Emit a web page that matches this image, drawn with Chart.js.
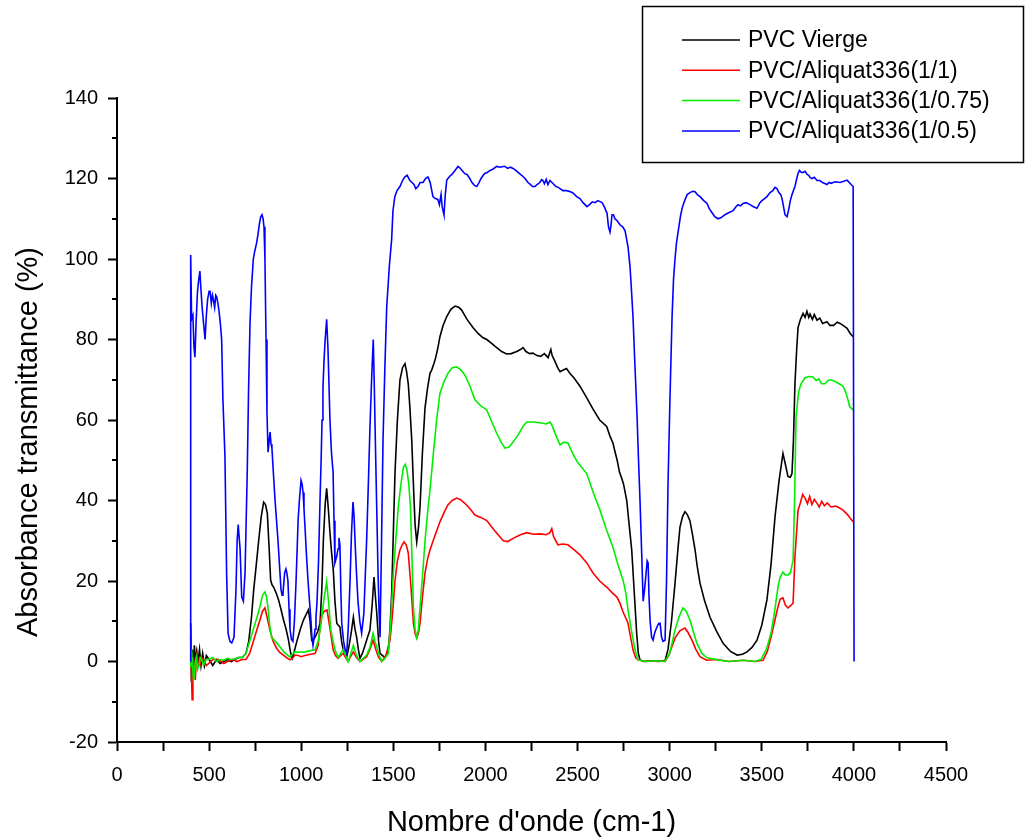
<!DOCTYPE html>
<html lang="fr">
<head>
<meta charset="utf-8">
<title>Spectres FTIR PVC / Aliquat336</title>
<script src="https://cdn.jsdelivr.net/npm/chart.js@4.4.1/dist/chart.umd.min.js"></script>
<style>
  html, body { margin: 0; padding: 0; background: #fff; }
  #wrap { position: relative; width: 1027px; height: 839px; }
</style>
</head>
<body>
<div id="wrap"><canvas id="spectre" width="1027" height="839"></canvas></div>
<script>
/* ---- data (wavenumber cm-1 / absorbance-transmittance %) ---- */
const seriesLabels = ['PVC Vierge', 'PVC/Aliquat336(1/1)', 'PVC/Aliquat336(1/0.75)', 'PVC/Aliquat336(1/0.5)'];
const seriesColors = ['#000000', '#ff0000', '#00ee00', '#0000ff'];

const xTicksMajor = [0, 500, 1000, 1500, 2000, 2500, 3000, 3500, 4000, 4500];
const yTicksMajor = [-20, 0, 20, 40, 60, 80, 100, 120, 140];

const waveBlack = [400,404,409,414,420,426,432,440,448,456,465,475,485,500,520,540,560,580,600,620,640,660,680,700,715,730,742,756,769,783,796,806,816,826,834,842,850,864,877,890,904,918,931,941,951,962,978,995,1012,1025,1039,1048,1057,1066,1075,1090,1102,1112,1120,1130,1138,1147,1156,1165,1174,1183,1193,1201,1210,1219,1228,1237,1247,1256,1265,1274,1283,1292,1301,1310,1319,1332,1346,1360,1373,1385,1395,1403,1410,1420,1428,1440,1455,1465,1473,1482,1491,1500,1509,1522,1536,1550,1563,1572,1581,1590,1600,1609,1618,1627,1636,1645,1658,1672,1686,1699,1708,1720,1730,1742,1753,1770,1790,1812,1835,1855,1871,1900,1932,1960,1985,2007,2035,2061,2088,2115,2140,2170,2190,2204,2220,2240,2258,2280,2300,2320,2340,2355,2362,2378,2392,2405,2425,2440,2460,2480,2513,2550,2584,2620,2658,2676,2692,2704,2714,2728,2740,2750,2767,2780,2794,2808,2821,2830,2839,2860,2900,2940,2975,2991,3010,3029,3045,3056,3070,3083,3096,3110,3124,3138,3150,3165,3190,3219,3255,3290,3330,3366,3395,3420,3447,3474,3500,3528,3550,3572,3594,3615,3628,3642,3655,3664,3672,3680,3690,3697,3710,3724,3735,3745,3755,3762,3775,3785,3800,3815,3830,3854,3870,3890,3910,3925,3945,3963,3980,3996];
const absBlack = [9.5,-5,3,-3,4,-1,2.4,0,3,-1,2,-1,1.5,0.5,-1,0.5,-0.5,0,0.5,0,0.5,1,1,2,5,11,17.8,24,30,36,39.6,39,36.8,28,20.2,19,18.5,17,15.3,13,10.3,8,5.3,2.5,0.8,2.5,5.3,8,10.3,11.5,12.8,10,5.3,5.5,6,7.5,9.5,18,30,39,43,38,32,27,22.7,15,9.5,9,8.6,5,2.9,1.8,1.2,3,5.3,8,11,8,6,3,0.8,2,4,6,7.8,14,21,16,12,5,2,1.5,1,2,3,8,17,32,46.8,60,70,73,74,72,69,63,55,44,34,29.7,33,38.4,52,63,68,71.6,72.4,74,75.5,78,80.7,83.5,85.7,87.5,88.3,88,87.3,85,83,81.5,80.5,80,79,78,77,76.4,76.5,77,77.5,78,77,76.5,76.6,76,75.8,76.5,75.5,77.5,76,74.5,73,72,72.5,72.8,71.5,70.5,68.4,65.5,62.7,60,58.4,56,54.3,52,50.2,47,45.5,44,40,34,27.7,17,7,2,0.4,0,0.2,0,0.2,3,10,19.4,28,33.4,36,37.2,36.5,35,31.5,27.7,23.5,19.4,15,11,7.5,4.5,2.5,1.6,1.8,2.4,3.5,5.3,9,15.3,24,36,45,51.7,49,46,45.8,46.7,55,69,78,83,85,86.5,85.5,87,85.5,86.3,85,86.2,84.8,85.3,84,84.4,83.5,83.5,84.3,84,83.4,82.8,81.5,80.7];

const waveRed = [400,404,408,412,415,420,425,430,435,442,450,460,470,485,500,520,550,580,600,630,650,680,700,720,742,760,776,790,803,815,830,848,866,885,905,925,939,952,966,985,1000,1020,1050,1075,1092,1108,1125,1140,1157,1173,1186,1200,1214,1228,1241,1255,1269,1283,1300,1319,1337,1355,1373,1390,1405,1420,1437,1460,1482,1496,1509,1522,1536,1548,1558,1570,1581,1595,1609,1618,1627,1636,1645,1658,1672,1686,1699,1720,1753,1775,1796,1820,1843,1865,1888,1915,1943,1975,2007,2050,2097,2120,2150,2190,2225,2260,2297,2330,2350,2360,2370,2394,2420,2448,2480,2513,2550,2584,2620,2658,2690,2714,2730,2747,2760,2774,2788,2801,2815,2828,2870,2920,2975,2995,3029,3055,3083,3100,3121,3142,3165,3200,3260,3320,3400,3460,3507,3530,3550,3570,3588,3600,3615,3628,3642,3655,3670,3680,3697,3710,3722,3735,3748,3760,3772,3785,3800,3812,3825,3840,3855,3876,3900,3920,3941,3965,3980,3996];
const absRed = [6,-3,-9.5,-2,1.1,-3,-4.6,0,2,-1,-1,1,0.5,-1,-0.4,0.5,0.5,-0.5,0,0.5,0,0.5,0.5,2,5.3,8,10.3,12.5,13.3,11,7.8,5,3.3,2.2,1.5,0.8,0.4,0.8,1.6,1.5,1.2,1.5,1.8,2,4,11,12.5,12.8,8,3,1.5,0.8,1.5,2,1,0,1.3,2.4,1,0,0.6,1.2,3,5.3,3,1,0,1.5,5.3,12,20,25,27.7,29,29.7,29,27,19,9.5,7,5.8,7,9.5,16,22,25.5,27.7,30.5,34.7,37,38.9,40,40.6,40.2,39.3,38,36.4,35.8,35,32.5,30,29.8,30.6,31.5,32,31.6,31.7,31.5,32,33,31,29,29.2,29,27.8,26.5,24.5,22,20,18.5,17,16,14.5,12.3,11,9.5,6,2.9,1,0.4,0,0.2,0,1.5,5.8,7.6,8.3,7.2,5.3,3,1.2,0.3,0.5,0,0.3,0,0.3,2.5,6,10,13.6,15.5,15.8,14,13.3,13.8,14.5,26,37.6,39.5,41.5,40.6,39.2,41,39,40.3,39.3,38.4,39.8,38.7,39.4,38.4,38.6,38.2,37.6,36.5,35.6,34.7];

const waveGreen = [400,405,410,415,420,425,430,437,445,452,460,470,480,495,520,540,560,580,600,620,640,660,680,700,722,740,760,776,790,803,812,819,829,839,860,885,910,939,952,966,990,1020,1050,1075,1092,1108,1122,1138,1150,1160,1173,1186,1200,1214,1228,1241,1255,1269,1283,1300,1319,1337,1355,1373,1390,1400,1410,1424,1437,1455,1473,1486,1500,1513,1527,1541,1555,1565,1574,1584,1593,1601,1609,1618,1627,1636,1645,1658,1672,1686,1699,1720,1735,1753,1775,1796,1820,1843,1865,1888,1915,1943,1975,2007,2035,2061,2085,2106,2128,2150,2180,2205,2225,2260,2297,2330,2350,2360,2380,2405,2425,2448,2470,2500,2550,2585,2622,2655,2692,2720,2747,2762,2774,2795,2812,2828,2870,2920,2975,3000,3029,3050,3072,3090,3110,3128,3148,3175,3203,3260,3320,3400,3460,3496,3525,3550,3570,3588,3600,3615,3628,3642,3655,3670,3678,3686,3700,3713,3735,3755,3778,3795,3810,3825,3843,3860,3876,3900,3920,3941,3955,3968,3977,3996];
const absGreen = [-1.4,2.9,-1,-4.5,-3.8,0,1.1,-2,-1,1,0.5,-1,0.4,0.5,1,0,0.5,0.3,0.8,0.5,0.6,1,1,2,5.3,8,11,13.6,16.5,17.3,16,13.6,9,6,5,3.6,2.2,1.1,1.8,2.4,2.3,2.4,2.7,2.9,5,9.5,15,19.8,14,8,5,2.5,1,2,3,1.5,0,2,4,1.5,0,0.8,1.6,3.5,7,5,3.6,1.5,0,0.8,2,10,22,30,38.4,44,48.3,49,47.6,44,38.4,26,13.6,8,6,8,13.6,21,30,37,42.6,53,60,66.6,69.5,71.6,73,73.2,72.5,71.2,68.5,65,63.5,62.5,59.5,56.7,54.5,53,53.3,54.5,56.5,58.5,59.5,59.5,59.3,59,59.5,58.8,56.5,53.8,54.5,54.3,52,49.5,46.7,42,37.6,33,28.4,24,20.2,17,12.8,7,2.9,0.4,0,0.2,0,2,7.8,11,13.3,12.5,10.3,7.5,4.5,2,0.9,0.4,0,0.3,0,0.5,3,7,12.5,18.5,21,22.2,21.5,21.5,22,25.2,40,60.8,67,69,70.5,70.8,70.7,69.8,70.2,69,69,69.8,70,69.5,69,68.4,67,65,63.3,62.5];

const waveBlue = [399,400,405,412,418,423,430,437,444,450,455,462,470,478,485,492,500,505,512,518,523,530,536,541,548,554,561,568,575,586,595,603,613,623,635,646,652,658,663,668,677,686,695,707,714,722,730,740,748,758,765,772,780,787,793,798,803,809,814,820,826,831,836,841,850,858,866,874,882,890,896,901,910,917,922,928,934,939,947,955,963,972,978,983,990,999,1005,1010,1015,1021,1029,1037,1045,1053,1058,1064,1070,1075,1080,1086,1094,1102,1108,1113,1118,1124,1130,1138,1145,1150,1156,1164,1173,1178,1183,1192,1200,1205,1210,1215,1220,1230,1238,1247,1255,1265,1273,1281,1287,1292,1300,1308,1318,1328,1340,1355,1365,1373,1382,1391,1396,1401,1409,1417,1423,1428,1436,1444,1454,1464,1478,1491,1498,1508,1520,1536,1550,1563,1575,1590,1601,1612,1622,1634,1645,1661,1675,1688,1700,1715,1728,1742,1750,1759,1765,1770,1775,1782,1790,1805,1818,1835,1851,1862,1873,1888,1900,1915,1927,1940,1953,1965,1976,1988,1998,2010,2025,2040,2061,2080,2095,2106,2120,2135,2150,2165,2177,2190,2204,2215,2231,2245,2255,2269,2280,2295,2305,2312,2320,2330,2339,2350,2361,2372,2383,2395,2405,2420,2437,2455,2475,2495,2513,2530,2551,2565,2580,2595,2610,2625,2633,2645,2654,2660,2668,2676,2682,2687,2695,2703,2715,2730,2745,2758,2766,2774,2785,2793,2801,2812,2823,2831,2839,2848,2856,2864,2872,2878,2883,2888,2894,2902,2910,2918,2926,2935,2942,2948,2956,2964,2975,2983,2991,3002,3013,3021,3029,3037,3045,3060,3070,3083,3095,3110,3125,3138,3150,3165,3185,3203,3215,3230,3245,3262,3280,3300,3320,3344,3360,3371,3385,3398,3415,3436,3455,3474,3490,3501,3515,3528,3545,3560,3572,3582,3593,3603,3610,3618,3626,3637,3645,3655,3664,3672,3680,3690,3697,3705,3715,3724,3735,3746,3755,3763,3773,3785,3800,3816,3830,3845,3854,3865,3876,3887,3900,3925,3945,3963,3975,3985,3996,4000,4001];
const absBlue = [0,101,85,86,78,75.6,85,92,95,97,93,88,84,80,86,90,92,92,89,91,90,88,91,90.6,89,87,84,80,65,51,22,7,5,4.6,6,18,30,34,31,28,16,15,22,47,67,84,93,100,102,104,106,108.5,110.5,111,110,108,100,80,62,52,55,57,54,53,46,40,35,30,24,18,16.5,17,22,23,22,20,13,8,5.5,5,10,20,28,35,40,45,44,42,38,33,26,20,15,10,6,4,6,8,11,15,25,40,50,60,68,75,80,85,78,70,60,52,47,35,24.5,26,28,30.7,29,18,9.5,5,3,2,8,20,32,39.6,36,30,22,15,10,7,12,30,45,58,70,80,70,58,40,22,12,6,30,55,73,88,98,105,112,115.5,117,118,119.5,120.4,120.8,119.5,119,118.5,117.5,118,119,119,120,120.4,119,115.5,115,114.8,113.5,116,113,112,111,116,119.6,120.5,121,122,123,122.6,122,121.2,121,120,119,118.3,118,119,120,120.8,121.3,121.5,122,122.3,123,122.8,123,123,122.5,122.8,122.5,122,121.5,121,120.5,120,119,118.5,118,118,118.5,119,119.7,119.5,118.7,119.8,118.5,119.5,119,118.5,118,117.8,117.5,117,117,116.8,116.4,115.5,115,114,113,113.5,114.2,114,114.5,114.2,114,113,112,111.4,108,106.7,108.5,111,111,110,109.5,108.5,108,107,105,103,98,92,85.6,73,60.8,50,40,27,15,18,22,25,24.5,16,10,6,5.3,7,8,9,9.5,9.5,6,5,5.3,20,44,66,85.6,95,100,104,106.5,111,113,114.7,116,116.5,116.8,116.7,116,115.5,114.5,113.8,112.5,111.5,110.5,110,110.3,111,111.5,112,113,113.5,113.2,113.8,114,113.5,113,112.6,114,114.5,115,115.5,116.5,117,117.8,117.5,116.5,116,115,113,111,110.5,112,114.5,116,117,118,120,121.3,122,121.5,121.5,121.8,121,120.8,120.2,120,120.3,119.5,119.5,119,118.7,118.5,119,118.8,119,119.2,119,119.3,119.6,119,118.5,118,118,0];

/* ---- helpers ---- */
const FONT = '"Liberation Sans", Arial, sans-serif';

function pairs(xs, ys) {
  return xs.map((x, i) => ({ x: x, y: ys[i] }));
}

const waves = [waveBlack, waveRed, waveGreen, waveBlue];
const values = [absBlack, absRed, absGreen, absBlue];

// Origin-like frame: minor y ticks, axis titles and boxed legend
const originFrame = {
  id: 'originFrame',
  afterDraw(chart) {
    const ctx = chart.ctx;
    const ys = chart.scales.y;
    const area = chart.chartArea;
    ctx.save();

    // minor ticks on y (every 10, between labelled ones)
    ctx.strokeStyle = '#000';
    ctx.lineWidth = 2;
    for (let v = -10; v < 140; v += 20) {
      const py = Math.round(ys.getPixelForValue(v));
      ctx.beginPath();
      ctx.moveTo(area.left, py);
      ctx.lineTo(area.left - 5, py);
      ctx.stroke();
    }

    // axis titles
    ctx.fillStyle = '#000';
    ctx.font = '29px ' + FONT;
    ctx.textAlign = 'center';
    ctx.textBaseline = 'middle';
    ctx.fillText("Nombre d'onde (cm-1)", (area.left + area.right) / 2, 823);
    ctx.translate(29, 442);
    ctx.rotate(-Math.PI / 2);
    ctx.fillText('Absorbance transmittance (%)', 0, 0);
    ctx.setTransform(1, 0, 0, 1, 0, 0);

    // legend box
    ctx.lineWidth = 1.5;
    ctx.strokeRect(642.5, 6.5, 381, 156);
    ctx.font = '23px ' + FONT;
    ctx.textAlign = 'left';
    chart.data.datasets.forEach((ds, i) => {
      const ly = 40 + i * 30.3;
      ctx.strokeStyle = ds.borderColor;
      ctx.lineWidth = 1.5;
      ctx.beginPath();
      ctx.moveTo(682, ly);
      ctx.lineTo(740, ly);
      ctx.stroke();
      ctx.fillStyle = '#000';
      ctx.fillText(ds.label, 748, ly + 1);
    });
    ctx.restore();
  }
};

function initChart() {
  new Chart(document.getElementById('spectre'), {
    type: 'line',
    data: {
      datasets: seriesLabels.map((label, i) => ({
        label: label,
        data: pairs(waves[i], values[i]),
        borderColor: seriesColors[i],
        borderWidth: 1.6,
        pointRadius: 0,
        tension: 0,
        fill: false,
        order: 3 - i
      }))
    },
    options: {
      responsive: false,
      devicePixelRatio: 1,
      animation: false,
      layout: { padding: { top: 98, right: 81, left: 0, bottom: 0 } },
      plugins: { legend: { display: false }, tooltip: { enabled: false } },
      scales: {
        x: {
          type: 'linear',
          min: 0,
          max: 4500,
          afterFit: s => { s.height = 97; },
          afterBuildTicks: s => { s.ticks = [];
            for (let v = 0; v <= 4500; v += 250) s.ticks.push({ value: v }); },
          border: { color: '#000', width: 2 },
          grid: { drawOnChartArea: false, drawTicks: true, tickLength: 9, tickWidth: 2, tickColor: '#000' },
          ticks: {
            autoSkip: false,
            maxRotation: 0,
            padding: 12,
            color: '#000',
            font: { family: FONT, size: 20 },
            callback: v => xTicksMajor.includes(v) ? String(v) : ''
          }
        },
        y: {
          min: -20,
          max: 140,
          afterFit: s => { s.width = 117; },
          afterBuildTicks: s => { s.ticks = yTicksMajor.map(v => ({ value: v })); },
          border: { color: '#000', width: 2 },
          grid: { drawOnChartArea: false, drawTicks: true, tickLength: 9, tickWidth: 2, tickColor: '#000' },
          ticks: {
            padding: 10,
            color: '#000',
            font: { family: FONT, size: 20 }
          }
        }
      }
    },
    plugins: [originFrame]
  });
}

if (typeof Chart !== 'undefined') initChart();
else window.addEventListener('load', initChart);
</script>
</body>
</html>
